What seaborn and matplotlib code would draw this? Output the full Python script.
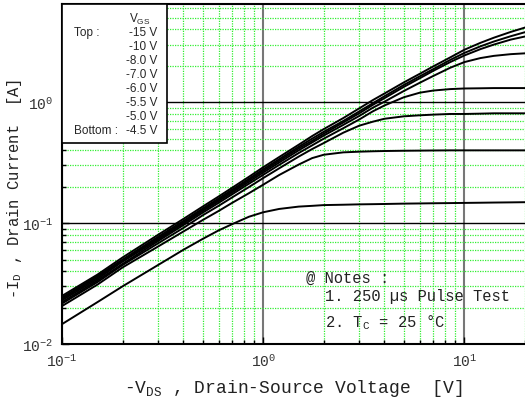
import matplotlib

matplotlib.use("Agg")

import matplotlib.pyplot as plt
import matplotlib.ticker as mticker
import pandas as pd
import seaborn as sns
from matplotlib.patches import Rectangle

# -V_DS sample points [V]
vds = [0.1, 0.15, 0.2, 0.3, 0.4, 0.5, 0.6, 0.7, 0.85, 1.0, 1.2, 1.5, 1.75, 2.0,
       2.5, 3.0, 3.5, 4.0, 5.0, 6.0, 7.0, 8.5, 10.0, 12.0, 14.0, 17.0, 20.0]

# -I_D [A] per gate voltage
vgs_labels = ["-15 V", "-10 V", "-8.0 V", "-7.0 V", "-6.0 V", "-5.5 V", "-5.0 V", "-4.5 V"]
id_m15 = [0.025, 0.0375, 0.052, 0.080, 0.108, 0.137, 0.166, 0.196, 0.242, 0.290, 0.352, 0.445, 0.525, 0.60,
          0.74, 0.89, 1.04, 1.18, 1.46, 1.72, 1.98, 2.35, 2.72, 3.10, 3.42, 3.82, 4.15]
id_m10 = [0.0242, 0.0365, 0.050, 0.077, 0.104, 0.132, 0.160, 0.189, 0.233, 0.279, 0.338, 0.428, 0.50, 0.57,
          0.70, 0.84, 0.98, 1.12, 1.39, 1.64, 1.88, 2.24, 2.56, 2.90, 3.18, 3.52, 3.80]
id_m8 = [0.0236, 0.0355, 0.049, 0.075, 0.101, 0.129, 0.156, 0.184, 0.227, 0.271, 0.328, 0.415, 0.48, 0.55,
         0.68, 0.81, 0.95, 1.08, 1.34, 1.58, 1.82, 2.15, 2.44, 2.75, 3.00, 3.30, 3.50]
id_m7 = [0.0230, 0.0345, 0.048, 0.073, 0.099, 0.126, 0.152, 0.179, 0.220, 0.262, 0.317, 0.40, 0.465, 0.53,
         0.65, 0.77, 0.90, 1.01, 1.24, 1.45, 1.65, 1.93, 2.15, 2.32, 2.42, 2.50, 2.54]
id_m6 = [0.0222, 0.0335, 0.046, 0.071, 0.096, 0.122, 0.147, 0.173, 0.212, 0.251, 0.303, 0.38, 0.44, 0.50,
         0.61, 0.72, 0.84, 0.94, 1.10, 1.20, 1.25, 1.285, 1.30, 1.305, 1.31, 1.31, 1.31]
id_m55 = [0.0216, 0.0325, 0.045, 0.068, 0.091, 0.116, 0.139, 0.163, 0.199, 0.236, 0.284, 0.355, 0.41, 0.46,
          0.56, 0.64, 0.69, 0.73, 0.765, 0.78, 0.79, 0.80, 0.80, 0.805, 0.81, 0.81, 0.81]
id_m5 = [0.0206, 0.031, 0.043, 0.064, 0.085, 0.106, 0.126, 0.147, 0.177, 0.208, 0.250, 0.305, 0.345, 0.368,
         0.385, 0.390, 0.393, 0.395, 0.397, 0.398, 0.399, 0.40, 0.40, 0.40, 0.40, 0.40, 0.40]
id_m45 = [0.0146, 0.0222, 0.030, 0.045, 0.060, 0.074, 0.087, 0.098, 0.113, 0.123, 0.131, 0.137, 0.139, 0.141,
          0.142, 0.143, 0.1435, 0.144, 0.145, 0.1455, 0.146, 0.1465, 0.147, 0.1475, 0.148, 0.1485, 0.149]

curves = [id_m15, id_m10, id_m8, id_m7, id_m6, id_m55, id_m5, id_m45]

rows = []
for label, values in zip(vgs_labels, curves):
    for v, i in zip(vds, values):
        rows.append({"vgs": label, "vds": v, "id": i})
df = pd.DataFrame(rows)

sns.set_theme(style="white")
plt.rcParams["font.family"] = ["Liberation Mono", "DejaVu Sans Mono"]
plt.rcParams["axes.unicode_minus"] = False

fig = plt.figure(figsize=(5.25, 4.06), dpi=100)
ax = fig.add_axes([62 / 525, 61 / 406, 463 / 525, 340 / 406])

sns.lineplot(
    data=df, x="vds", y="id", hue="vgs", hue_order=vgs_labels,
    palette=["black"] * len(vgs_labels), linewidth=1.4, legend=False,
    errorbar=None, ax=ax, zorder=5,
)

ax.set_xscale("log")
ax.set_yscale("log")
ax.set_xlim(0.1, 20)
ax.set_ylim(0.01, 6.5)

sub = [2, 3, 4, 5, 6, 7, 8, 9]
for axis in (ax.xaxis, ax.yaxis):
    axis.set_major_locator(mticker.LogLocator(base=10))
    axis.set_minor_locator(mticker.LogLocator(base=10, subs=sub))
    axis.set_minor_formatter(mticker.NullFormatter())

ax.grid(which="minor", color="#33ee33", linestyle=(0, (1, 1)), linewidth=0.9)
ax.xaxis.grid(True, which="major", color="#777777", linewidth=1.5, linestyle="-")
ax.yaxis.grid(True, which="major", color="black", linewidth=1.0, linestyle="-")
ax.set_axisbelow(True)

for side in ("left", "bottom", "top"):
    ax.spines[side].set_color("black")
    ax.spines[side].set_linewidth(1.5)
ax.spines["right"].set_visible(False)

ax.tick_params(which="both", direction="in", left=True, bottom=True,
               top=False, right=False, color="black", width=1)
ax.tick_params(which="major", length=5, labelsize=10.5, labelcolor="#333333", pad=6)
ax.tick_params(which="minor", length=3)

ax.set_xlabel(r"-V$_{\mathregular{DS}}$ , Drain-Source Voltage  [V]",
              fontsize=13, color="#222222", labelpad=6)
ax.set_ylabel(r"-I$_{\mathregular{D}}$ , Drain Current  [A]",
              fontsize=11.2, color="#222222")
ax.yaxis.set_label_coords(-0.082, 0.46)

# gate voltage key box
ax.add_patch(Rectangle((0, (345 - 144) / 340), 105 / 463, 1 - (345 - 144) / 340,
                       transform=ax.transAxes, facecolor="white", edgecolor="black",
                       linewidth=1.2, zorder=8, clip_on=False))
key_font = ["Liberation Sans Narrow", "Liberation Sans"]
key_kw = dict(transform=ax.transAxes, va="center", fontsize=8.5,
              family=key_font, zorder=9)
ax.text((140 - 62) / 463, (345 - 19) / 340, r"V$_{\mathregular{GS}}$", ha="center", **key_kw)
for k, label in enumerate(vgs_labels):
    ax.text((157 - 62) / 463, (345 - 33 - 14 * k) / 340, label, ha="right", **key_kw)
ax.text((74 - 62) / 463, (345 - 33) / 340, "Top :", ha="left", **key_kw)
ax.text((74 - 62) / 463, (345 - 131) / 340, "Bottom :", ha="left", **key_kw)

# notes
note_kw = dict(transform=ax.transAxes, ha="left", va="center", fontsize=11.2,
               color="#222222", zorder=9)
ax.text((306 - 62) / 463, (345 - 278) / 340, "@ Notes :", **note_kw)
ax.text((325 - 62) / 463, (345 - 297) / 340, "1. 250 µs Pulse Test", **note_kw)
ax.text((325 - 62) / 463, (345 - 323) / 340, r"2. T$_{\mathregular{C}}$ = 25 °C", **note_kw)

fig.savefig("out.png", dpi=100)
plt.close(fig)
